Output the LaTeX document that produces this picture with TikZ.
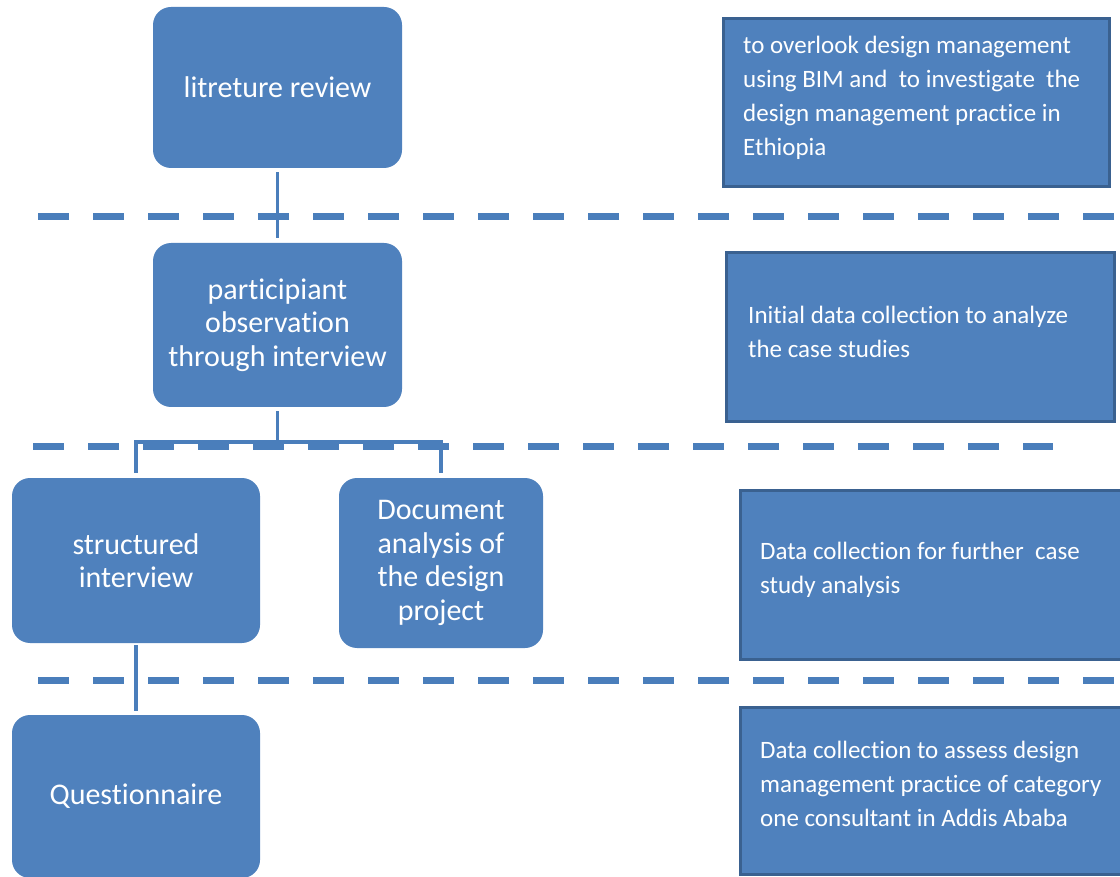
\documentclass[tikz,border=0pt]{standalone}
\usepackage{fontspec}
\setmainfont{Carlito}[Ligatures=NoCommon]
\definecolor{boxblue}{HTML}{4F81BD}
\definecolor{edgeblue}{HTML}{3A6190}
\definecolor{lineblue}{HTML}{4A7EBB}
\tikzset{
  stagebox/.style={rectangle, rounded corners=18pt, fill=boxblue, draw=none,
    inner sep=0pt, align=center, text=white,
    font=\fontsize{30}{33.5}\selectfont},
  notebox/.style={rectangle, fill=boxblue, draw=edgeblue, line width=3pt, inner sep=0pt},
  notetext/.style={anchor=west, inner sep=0pt, align=left, text=white,
    font=\fontsize{25}{34}\selectfont},
  conn/.style={draw=lineblue, line width=3.5pt},
  divider/.style={draw=lineblue, line width=7pt, dash pattern=on 31pt off 24pt}
}
\begin{document}
\begin{tikzpicture}[x=1pt, y=-1pt]
\useasboundingbox (0,0) rectangle (1120,877);

% phase dividers
\coordinate (d1a) at (38,217);  \coordinate (d1b) at (1114,217);
\coordinate (d2a) at (33,446.5); \coordinate (d2b) at (1053,446.5);
\coordinate (d3a) at (38,680);  \coordinate (d3b) at (1125,680);
\draw[divider] (d1a) -- (d1b);
\draw[divider] (d2a) -- (d2b);
\draw[divider] (d3a) -- (d3b);

% method boxes
\node[stagebox, minimum width=249pt, minimum height=161pt] (lit) at (277.5,87.5) {litreture review};
\node[stagebox, minimum width=249pt, minimum height=164pt] (part) at (277.5,325) {participiant\\observation\\through interview};
\node[stagebox, minimum width=248pt, minimum height=165pt] (struct) at (136,560.5) {structured\\interview};
\node[stagebox, minimum width=204pt, minimum height=170pt] (doc) at (441,563) {Document\\analysis of\\the design\\project};
\node[stagebox, minimum width=248pt, minimum height=163pt] (quest) at (136,796.5) {Questionnaire};

% connectors
\coordinate (bus) at (277.5,442);
\draw[conn, shorten <=4pt, shorten >=5pt] (lit) -- (part);
\draw[conn, shorten <=4pt] (part.south) -- (bus);
\draw[conn, shorten >=5pt] (bus) -| (struct.north);
\draw[conn, shorten >=5pt] (bus) -| (doc.north);
\draw[conn, shorten <=2pt, shorten >=4pt] (struct.south) -- (quest.north);

% purpose boxes
\node[notebox, minimum width=386pt, minimum height=168pt] (r1) at (916,103) {};
\node[notebox, minimum width=388pt, minimum height=169pt] (r2) at (920,337.5) {};
\node[notebox, minimum width=385pt, minimum height=169pt] (r3) at (932.5,574.5) {};
\node[notebox, minimum width=385pt, minimum height=167pt] (r4) at (932.5,790.5) {};

\node[notetext] (r1t) at (743,97.5) {to overlook design management\\using BIM and~ to investigate~ the\\design management practice in\\Ethiopia};
\node[notetext] (r2t) at (748,332) {Initial data collection to analyze\\the case studies};
\node[notetext] (r3t) at (760,569.5) {Data collection for further~ case\\study analysis};
\node[notetext] (r4t) at (760,783.5) {Data collection to assess design\\management practice of category\\one consultant in Addis Ababa};
\end{tikzpicture}
\end{document}
